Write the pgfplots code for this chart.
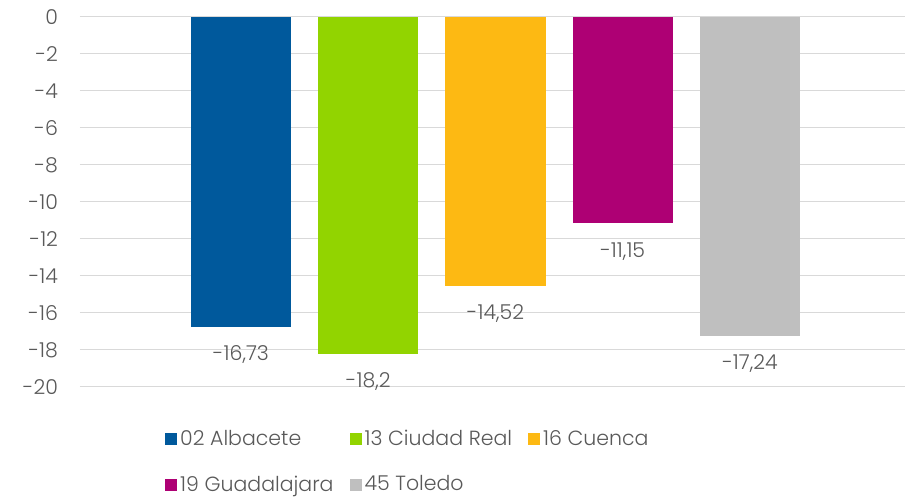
\documentclass[border=0pt]{standalone}
\usepackage{fontspec}
\setmainfont{Poppins}[UprightFont=* Light]
\usepackage{pgfplots}
\pgfplotsset{compat=1.18}
\definecolor{cBlue}{HTML}{00599C}
\definecolor{cGreen}{HTML}{92D400}
\definecolor{cYellow}{HTML}{FDB913}
\definecolor{cMag}{HTML}{AE0074}
\definecolor{cGray}{HTML}{BFBFBF}
\definecolor{txt}{HTML}{595959}
\definecolor{grid}{HTML}{D9D9D9}
\begin{document}
\fontsize{20.5}{24}\selectfont
\begin{tikzpicture}
\begin{axis}[
  at={(0,0)}, anchor=south west,
  scale only axis, width=825pt, height=370pt,
  xmin=-1.265, xmax=5.218, ymin=-20, ymax=0,
  ybar, bar width=0.786, bar shift=0pt,
  ytick={-20,-18,...,0}, xtick=\empty,
  ymajorgrids, grid style={draw=grid, line width=1pt},
  axis line style={draw=none},
  major tick length=0pt,
  yticklabel style={text=txt, font=\fontsize{20.5}{24}\selectfont, xshift=-15pt, /pgf/number format/assume math mode=true},
  point meta=y,
  nodes near coords,
  every node near coord/.append style={text=txt, font=\fontsize{20.5}{24}\selectfont, yshift=-12pt,
    /pgf/number format/.cd, use comma, assume math mode=true},
  legend columns=3,
  legend style={at={(85pt,-42pt)}, anchor=north west, draw=none, fill=none,
    font=\fontsize{20.5}{24}\selectfont, text=txt,
    /tikz/every even column/.append style={column sep=15pt},
    /tikz/every odd column/.append style={column sep=2pt},
    row sep=25pt, inner sep=0pt,
    nodes={inner sep=1pt, anchor=west}},
  legend cell align=left,
]
\addplot[fill=cBlue, draw=none, legend image code/.code={\fill[cBlue] (0pt,-6pt) rectangle (12pt,6pt);}] coordinates {(0,-16.73)};
\addlegendentry{02 Albacete}
\addplot[fill=cGreen, draw=none, legend image code/.code={\fill[cGreen] (0pt,-6pt) rectangle (12pt,6pt);}] coordinates {(1,-18.2)};
\addlegendentry{13 Ciudad Real}
\addplot[fill=cYellow, draw=none, legend image code/.code={\fill[cYellow] (0pt,-6pt) rectangle (12pt,6pt);}] coordinates {(2,-14.52)};
\addlegendentry{16 Cuenca}
\addplot[fill=cMag, draw=none, legend image code/.code={\fill[cMag] (0pt,-6pt) rectangle (12pt,6pt);}] coordinates {(3,-11.15)};
\addlegendentry{19 Guadalajara}
\addplot[fill=cGray, draw=none, legend image code/.code={\fill[cGray] (0pt,-6pt) rectangle (12pt,6pt);}] coordinates {(4,-17.24)};
\addlegendentry{45 Toledo}
\end{axis}
\pgfresetboundingbox
\path (-80pt,-110pt) rectangle (825pt,387pt);
\end{tikzpicture}
\end{document}
